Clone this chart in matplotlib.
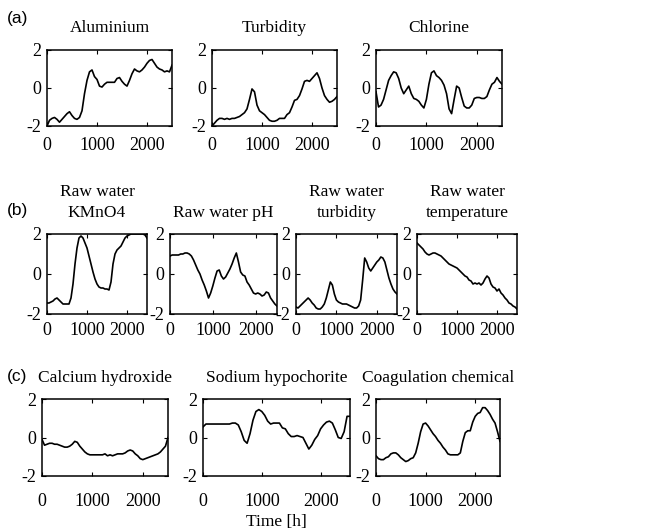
import numpy as np
import matplotlib
matplotlib.use("Agg")
import matplotlib.pyplot as plt

plt.rcParams['font.family'] = ['Liberation Serif', 'DejaVu Serif']
plt.rcParams['axes.unicode_minus'] = False

time_h = np.arange(0, 2501, 50)

aluminium = [-2.0, -1.7, -1.6, -1.55, -1.65, -1.8, -1.65, -1.5, -1.35, -1.25,
             -1.45, -1.6, -1.65, -1.55, -1.2, -0.3, 0.4, 0.85, 0.95, 0.6,
             0.45, 0.1, 0.05, 0.2, 0.3, 0.3, 0.3, 0.3, 0.5, 0.55,
             0.35, 0.2, 0.1, 0.4, 0.75, 1.0, 0.9, 0.85, 0.95, 1.1,
             1.3, 1.45, 1.5, 1.3, 1.1, 1.0, 0.95, 0.85, 0.9, 0.85, 1.2]
turbidity = [-2.0, -1.85, -1.7, -1.6, -1.6, -1.65, -1.6, -1.65, -1.6, -1.6,
             -1.55, -1.5, -1.4, -1.3, -1.1, -0.6, -0.05, -0.2, -0.9, -1.2,
             -1.3, -1.4, -1.55, -1.7, -1.75, -1.75, -1.7, -1.6, -1.6, -1.6,
             -1.4, -1.3, -1.0, -0.65, -0.6, -0.4, -0.05, 0.35, 0.4, 0.35,
             0.5, 0.65, 0.8, 0.5, 0.0, -0.4, -0.6, -0.75, -0.7, -0.6, -0.45]
chlorine = [-0.2, -1.0, -0.9, -0.6, -0.1, 0.4, 0.65, 0.85, 0.8, 0.5,
            0.0, -0.3, -0.1, 0.1, -0.3, -0.55, -0.6, -0.7, -0.9, -1.05,
            -0.6, 0.2, 0.8, 0.9, 0.65, 0.55, 0.4, 0.15, -0.3, -1.1,
            -1.35, -0.6, 0.1, 0.0, -0.5, -0.95, -1.05, -1.05, -0.9, -0.55,
            -0.5, -0.5, -0.55, -0.55, -0.45, -0.1, 0.2, 0.3, 0.55, 0.35, 0.2]
raw_kmno4 = [-1.45, -1.45, -1.4, -1.35, -1.25, -1.2, -1.3, -1.4, -1.5, -1.5,
             -1.5, -1.5, -1.2, -0.5, 0.5, 1.3, 1.8, 1.9, 1.8, 1.55,
             1.3, 0.9, 0.5, 0.1, -0.25, -0.5, -0.65, -0.7, -0.7, -0.75,
             -0.75, -0.8, -0.4, 0.5, 1.0, 1.2, 1.3, 1.4, 1.6, 1.8,
             1.9, 1.95, 2.0, 2.0, 2.0, 2.0, 2.0, 2.0, 2.0, 1.95, 1.8]
raw_ph = [0.9, 0.95, 0.95, 0.95, 0.95, 1.0, 1.0, 1.05, 1.05, 1.0,
          0.9, 0.7, 0.45, 0.2, 0.0, -0.3, -0.55, -0.85, -1.2, -0.95,
          -0.6, -0.2, 0.15, 0.2, -0.1, -0.25, -0.15, 0.05, 0.25, 0.5,
          0.8, 1.05, 0.6, 0.1, -0.05, -0.1, -0.4, -0.55, -0.75, -0.95,
          -1.0, -0.95, -1.0, -1.1, -1.05, -0.9, -0.95, -1.2, -1.35, -1.5, -1.6]
raw_turbidity = [-1.65, -1.7, -1.6, -1.5, -1.4, -1.3, -1.2, -1.3, -1.45, -1.55,
                 -1.7, -1.75, -1.75, -1.65, -1.5, -1.2, -0.8, -0.4, -0.55, -1.0,
                 -1.3, -1.4, -1.45, -1.5, -1.5, -1.5, -1.55, -1.6, -1.65, -1.7,
                 -1.7, -1.6, -1.3, -0.3, 0.8, 0.6, 0.3, 0.15, 0.3, 0.45,
                 0.6, 0.7, 0.85, 0.8, 0.6, 0.2, -0.2, -0.5, -0.75, -0.9, -1.0]
raw_temperature = [1.55, 1.45, 1.35, 1.25, 1.1, 1.0, 0.95, 1.0, 1.05, 1.05,
                   1.0, 0.95, 0.9, 0.8, 0.7, 0.6, 0.5, 0.45, 0.4, 0.35,
                   0.3, 0.2, 0.1, 0.0, -0.1, -0.15, -0.3, -0.35, -0.5, -0.45,
                   -0.5, -0.45, -0.55, -0.45, -0.25, -0.1, -0.2, -0.5, -0.65, -0.7,
                   -0.85, -0.75, -0.95, -1.05, -1.2, -1.3, -1.45, -1.5, -1.6, -1.65, -1.75]
calcium_hydroxide = [-0.1, -0.4, -0.35, -0.3, -0.3, -0.35, -0.35, -0.4, -0.45, -0.5,
                     -0.5, -0.45, -0.35, -0.2, -0.25, -0.45, -0.6, -0.75, -0.85, -0.9,
                     -0.9, -0.9, -0.9, -0.9, -0.9, -0.85, -0.95, -0.9, -0.95, -0.9,
                     -0.85, -0.85, -0.85, -0.8, -0.7, -0.65, -0.7, -0.85, -0.95, -1.1,
                     -1.15, -1.1, -1.05, -1.0, -0.95, -0.9, -0.85, -0.75, -0.6, -0.45, 0.0]
sodium_hypochorite = [0.55, 0.7, 0.7, 0.7, 0.7, 0.7, 0.7, 0.7, 0.7, 0.7,
                      0.75, 0.75, 0.65, 0.3, -0.15, -0.3, 0.2, 0.9, 1.35, 1.45,
                      1.35, 1.15, 0.85, 0.7, 0.75, 0.75, 0.75, 0.5, 0.45, 0.2,
                      0.05, 0.05, 0.1, 0.05, 0.0, -0.3, -0.6, -0.4, -0.1, 0.1,
                      0.45, 0.65, 0.8, 0.85, 0.75, 0.4, 0.0, -0.05, 0.3, 1.1, 1.1]
coagulation_chemical = [-0.95, -1.1, -1.15, -1.15, -1.05, -1.0, -0.85, -0.8, -0.8, -0.9,
                        -1.05, -1.15, -1.25, -1.2, -1.1, -1.05, -0.8, -0.3, 0.3, 0.7,
                        0.75, 0.6, 0.4, 0.2, 0.05, -0.15, -0.3, -0.5, -0.65, -0.85,
                        -0.9, -0.9, -0.9, -0.9, -0.8, -0.2, 0.25, 0.35, 0.35, 0.8,
                        1.1, 1.25, 1.3, 1.55, 1.55, 1.4, 1.2, 0.95, 0.75, 0.3, -0.2]

row_a_titles = ["Aluminium", "Turbidity", "Chlorine"]
row_b_titles = ["Raw water\nKMnO4", "Raw water pH", "Raw water\nturbidity", "Raw water\ntemperature"]
row_c_titles = ["Calcium hydroxide", "Sodium hypochorite", "Coagulation chemical"]
panel_labels = ["(a)", "(b)", "(c)"]
x_ticks = [0, 1000, 2000]
y_ticks = [-2, 0, 2]

W, H = 648, 529
fig = plt.figure(figsize=(W / 100, H / 100), dpi=100)

def px_axes(x0, x1, ytop, ybot):
    return fig.add_axes([x0 / W, 1 - ybot / H, (x1 - x0) / W, (ybot - ytop) / H])

def style(ax, title, series, xpad, tpad):
    ax.plot(time_h, series, color='black', lw=1.2)
    ax.set_xlim(0, 2500)
    ax.set_ylim(-2, 2)
    ax.set_xticks(x_ticks)
    ax.set_yticks(y_ticks)
    ax.tick_params(direction='in', length=3, width=0.8, top=True, right=True,
                   labelsize=13, pad=4)
    ax.tick_params(axis='x', pad=xpad)
    for s in ax.spines.values():
        s.set_linewidth(1.1)
    ax.set_title(title, fontsize=12.5, pad=tpad, linespacing=1.45)

rows = [
    (50, 126, [(47, 172), (212, 337), (376, 502)], row_a_titles,
     [aluminium, turbidity, chlorine], 8, 13),
    (234, 314, [(47, 147), (170, 277), (296, 397), (417, 517)], row_b_titles,
     [raw_kmno4, raw_ph, raw_turbidity, raw_temperature], 6, 12),
    (399, 476, [(42, 168), (203, 350), (376, 500)], row_c_titles,
     [calcium_hydroxide, sodium_hypochorite, coagulation_chemical], 12, 12),
]
for ytop, ybot, xs, titles, data, xpad, tpad in rows:
    for (x0, x1), t, d in zip(xs, titles, data):
        ax = px_axes(x0, x1, ytop, ybot)
        style(ax, t, d, xpad, tpad)

label_pos = [(7, 19), (7, 210), (7, 377)]
for lab, (x, y) in zip(panel_labels, label_pos):
    fig.text(x / W, 1 - y / H, lab, fontsize=12.5, family='Liberation Sans',
             va='center', ha='left')

fig.text(276 / W, 1 - 522 / H, "Time [h]", fontsize=12.5, ha='center', va='center')

fig.savefig("out.png", dpi=100, facecolor='white')
